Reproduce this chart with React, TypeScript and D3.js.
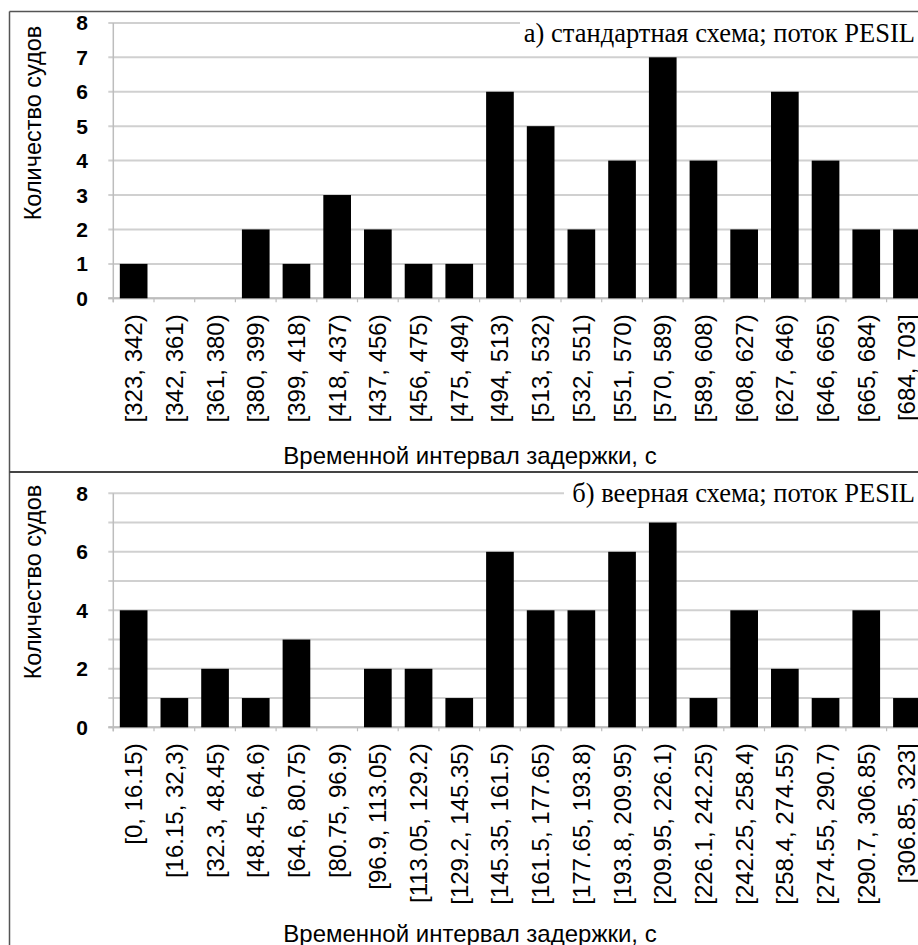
import React from "react";
import * as d3 from "d3";

const topCategories = ["[323, 342)","[342, 361)","[361, 380)","[380, 399)","[399, 418)","[418, 437)","[437, 456)","[456, 475)","[475, 494)","[494, 513)","[513, 532)","[532, 551)","[551, 570)","[570, 589)","[589, 608)","[608, 627)","[627, 646)","[646, 665)","[665, 684)","[684, 703]"];
const topValues = [1,0,0,2,1,3,2,1,1,6,5,2,4,7,4,2,6,4,2,2];
const topGridTicks = [0,1,2,3,4,5,6,7,8];
const topLabelTicks = [0,1,2,3,4,5,6,7,8];

const bottomCategories = ["[0, 16.15)","[16.15, 32,3)","[32.3, 48.45)","[48.45, 64.6)","[64.6, 80.75)","[80.75, 96.9)","[96.9, 113.05)","[113.05, 129.2)","[129.2, 145.35)","[145.35, 161.5)","[161.5, 177.65)","[177.65, 193.8)","[193.8, 209.95)","[209.95, 226.1)","[226.1, 242.25)","[242.25, 258.4)","[258.4, 274.55)","[274.55, 290.7)","[290.7, 306.85)","[306.85, 323]"];
const bottomValues = [4,1,2,1,3,0,2,2,1,6,4,4,6,7,1,4,2,1,4,1];
const bottomGridTicks = [0,1,2,3,4,5,6,7,8];
const bottomLabelTicks = [0,2,4,6,8];

const yTitle = "Количество судов";
const xTitle = "Временной интервал задержки, с";
const topLegend = "а) стандартная схема; поток PESIL";
const bottomLegend = "б) веерная схема; поток PESIL";

const SANS = "'Liberation Sans', Arial, sans-serif";
const SERIF = "'Liberation Serif', 'Times New Roman', serif";

type PanelProps = {
  cats: string[];
  vals: number[];
  gridTicks: number[];
  labelTicks: number[];
  y0: number;
  y1: number;
  legend: string;
  legendBoxX: number;
  legendY: number;
  yTitleY: number;
  xTitleY: number;
};

const X0 = 113.3;
const X1 = 927.3;

function Panel(p: PanelProps) {
  const x = d3.scaleBand<string>().domain(p.cats).range([X0, X1]).paddingInner(0.32).paddingOuter(0.16);
  const y = d3.scaleLinear().domain([0, 8]).range([p.y0, p.y1]);
  const step = x.step();
  return (
    <g>
      {p.gridTicks.map((t) => (
        <line key={"g" + t} x1={X0 - 5} x2={X1} y1={y(t)} y2={y(t)} stroke="#d0d0d0" strokeWidth={2} />
      ))}
      <line x1={X0} x2={X0} y1={y(8)} y2={y(0) + 4} stroke="#bdbdbd" strokeWidth={1.5} />
      <line x1={X0 - 5} x2={X1} y1={y(0)} y2={y(0)} stroke="#bdbdbd" strokeWidth={2} />
      {p.cats.map((c, i) => (
        <line key={"t" + i} x1={X0 + i * step} x2={X0 + i * step} y1={y(0)} y2={y(0) + 4} stroke="#bdbdbd" strokeWidth={1.2} />
      ))}
      {p.cats.map((c, i) => (
        <rect key={"b" + i} x={x(c)} width={x.bandwidth()} y={y(p.vals[i])} height={y(0) - y(p.vals[i])} fill="#000" />
      ))}
      {p.labelTicks.map((t) => (
        <text key={"l" + t} x={88} y={y(t)} textAnchor="end" dominantBaseline="central" fontFamily={SANS} fontWeight="bold" fontSize={21} fill="#000">{t}</text>
      ))}
      {p.cats.map((c, i) => {
        const cx = (x(c) as number) + x.bandwidth() / 2;
        const ty = y(0) + 16;
        return (
          <text key={"x" + i} transform={`translate(${cx},${ty}) rotate(-90)`} textAnchor="end" dominantBaseline="central" fontFamily={SANS} fontSize={24} fill="#000">{c}</text>
        );
      })}
      <rect x={p.legendBoxX} y={p.legendY - 19} width={918 - p.legendBoxX} height={38} fill="#fff" />
      <text x={915} y={p.legendY} textAnchor="end" dominantBaseline="central" fontFamily={SERIF} fontSize={26.5} fill="#000">{p.legend}</text>
      <text transform={`translate(33,${p.yTitleY}) rotate(-90)`} textAnchor="middle" dominantBaseline="central" fontFamily={SANS} fontSize={23.5} fill="#000">{yTitle}</text>
      <text x={470} y={p.xTitleY} textAnchor="middle" dominantBaseline="central" fontFamily={SANS} fontSize={24} fill="#000">{xTitle}</text>
    </g>
  );
}

export default function App() {
  return (
    <svg width={918} height={945} style={{ position: "absolute", left: 0, top: 0, background: "#fff" }}>
      <rect x={0} y={0} width={918} height={945} fill="#fff" />
      <Panel cats={topCategories} vals={topValues} gridTicks={topGridTicks} labelTicks={topLabelTicks}
        y0={298.3} y1={22.9} legend={topLegend} legendBoxX={520} legendY={33} yTitleY={123} xTitleY={455} />
      <Panel cats={bottomCategories} vals={bottomValues} gridTicks={bottomGridTicks} labelTicks={bottomLabelTicks}
        y0={727.3} y1={493.3} legend={bottomLegend} legendBoxX={564} legendY={493} yTitleY={582} xTitleY={933} />
      <line x1={9.5} x2={9.5} y1={11.5} y2={945} stroke="#555" strokeWidth={1.5} />
      <line x1={9.5} x2={918} y1={11.5} y2={11.5} stroke="#555" strokeWidth={1.5} />
      <line x1={9.5} x2={918} y1={472} y2={472} stroke="#444" strokeWidth={2} />
    </svg>
  );
}
